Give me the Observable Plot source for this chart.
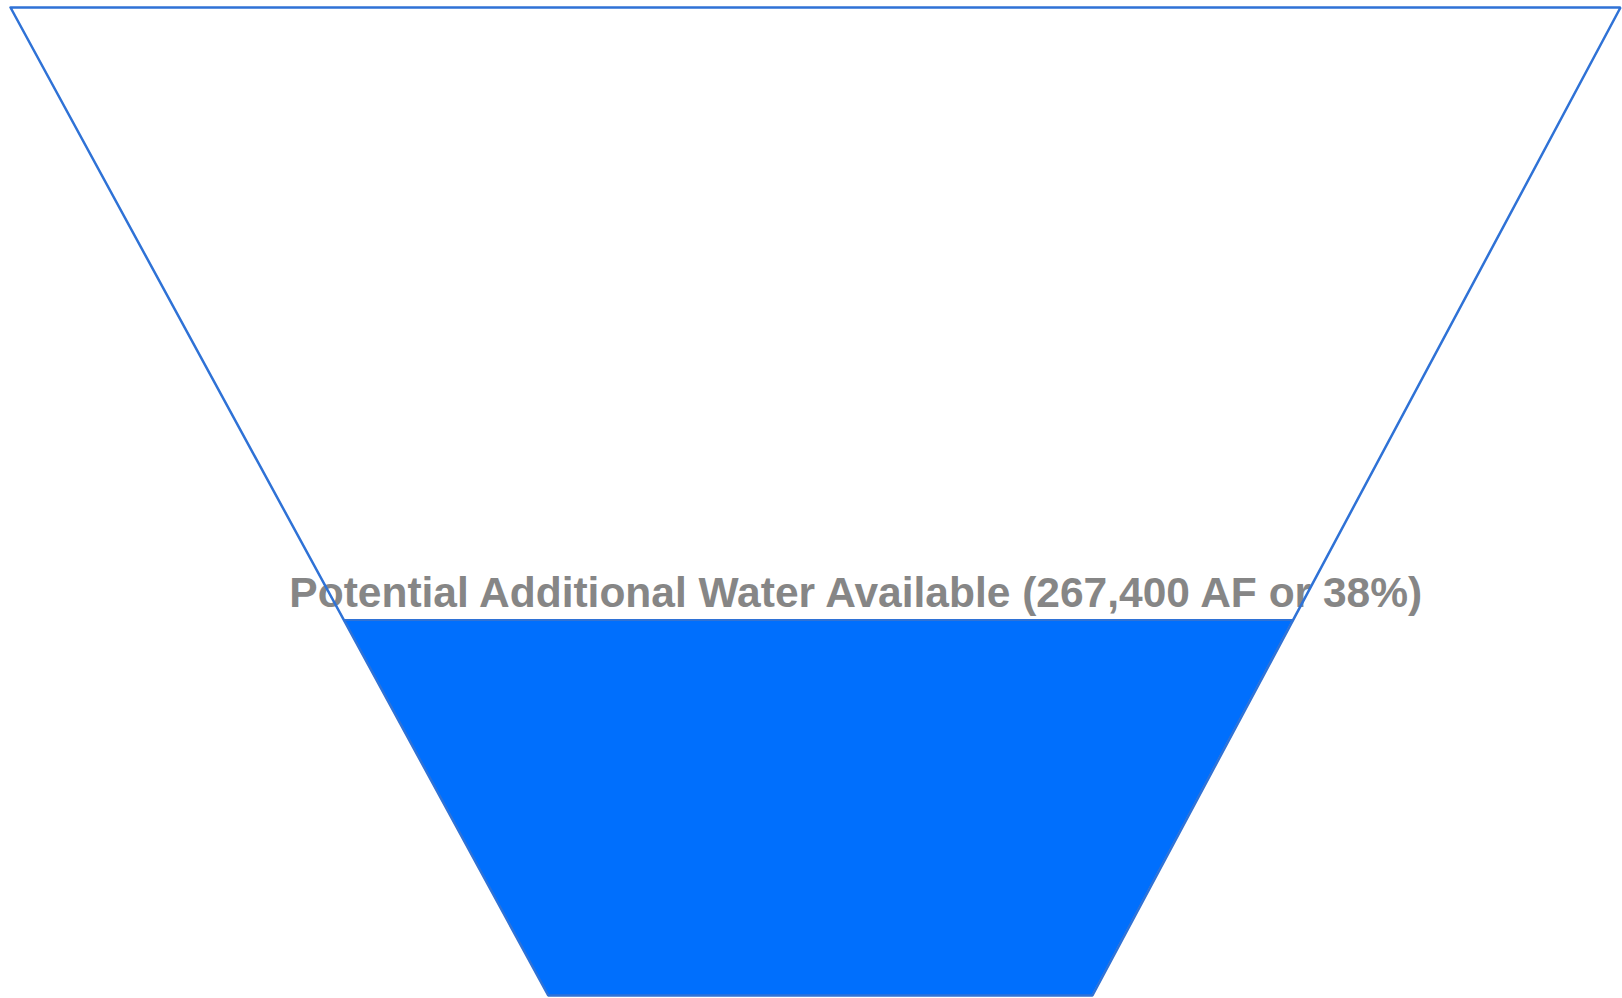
<!DOCTYPE html>
<html>
<head>
<meta charset="utf-8">
<script src="https://cdn.jsdelivr.net/npm/d3@7"></script>
<script src="https://cdn.jsdelivr.net/npm/@observablehq/plot@0.6"></script>
<style>
  html, body { margin: 0; padding: 0; background: #fff; }
  #chart svg { display: block; }
</style>
</head>
<body>
<div id="chart"></div>
<script>
// Reservoir cross-section: x is relative half-width, y is depth fraction (0 = bottom, 1 = crest)
const rimX = [-1, 1];            // left/right edge at the crest
const bedX = [-0.332, 0.344];    // left/right edge at the bed
const depthLevels = [0, 1];      // bed, crest
const storedFraction = 0.38;     // current water surface as a share of depth
const labelText = "Potential Additional Water Available (267,400 AF or 38%)";
const labelX = 0.05;

// Side wall position at a given depth fraction
const wallAt = (side, d) => bedX[side] + (rimX[side] - bedX[side]) * d;

const outline = [
  {x: rimX[0], y: depthLevels[1]},
  {x: rimX[1], y: depthLevels[1]},
  {x: bedX[1], y: depthLevels[0]},
  {x: bedX[0], y: depthLevels[0]},
  {x: rimX[0], y: depthLevels[1]}
];

const water = [
  {y: depthLevels[0], x1: wallAt(0, depthLevels[0]), x2: wallAt(1, depthLevels[0])},
  {y: storedFraction, x1: wallAt(0, storedFraction), x2: wallAt(1, storedFraction)}
];

const surface = [
  {x: wallAt(0, storedFraction), y: storedFraction},
  {x: wallAt(1, storedFraction), y: storedFraction}
];

const chart = Plot.plot({
  width: 1622,
  height: 998,
  marginLeft: 10,
  marginRight: 2,
  marginTop: 7,
  marginBottom: 3,
  x: {domain: [-1, 1], axis: null},
  y: {domain: [0, 1], axis: null},
  style: {background: "#fff"},
  marks: [
    Plot.areaX(water, {x1: "x1", x2: "x2", y: "y", fill: "#006ffd"}),
    Plot.line(surface, {x: "x", y: "y", stroke: "#2f72d6", strokeWidth: 2}),
    Plot.text([labelText], {
      x: () => labelX, y: () => storedFraction,
      text: d => d, dy: -27,
      fill: "#868686", fontSize: 42.5, fontWeight: "bold",
      fontFamily: "Liberation Sans, Arial, sans-serif",
      textAnchor: "middle"
    }),
    Plot.line(outline, {x: "x", y: "y", stroke: "#2f72d6", strokeWidth: 2.5, strokeLinejoin: "miter"})
  ]
});

document.getElementById("chart").append(chart);
</script>
</body>
</html>
